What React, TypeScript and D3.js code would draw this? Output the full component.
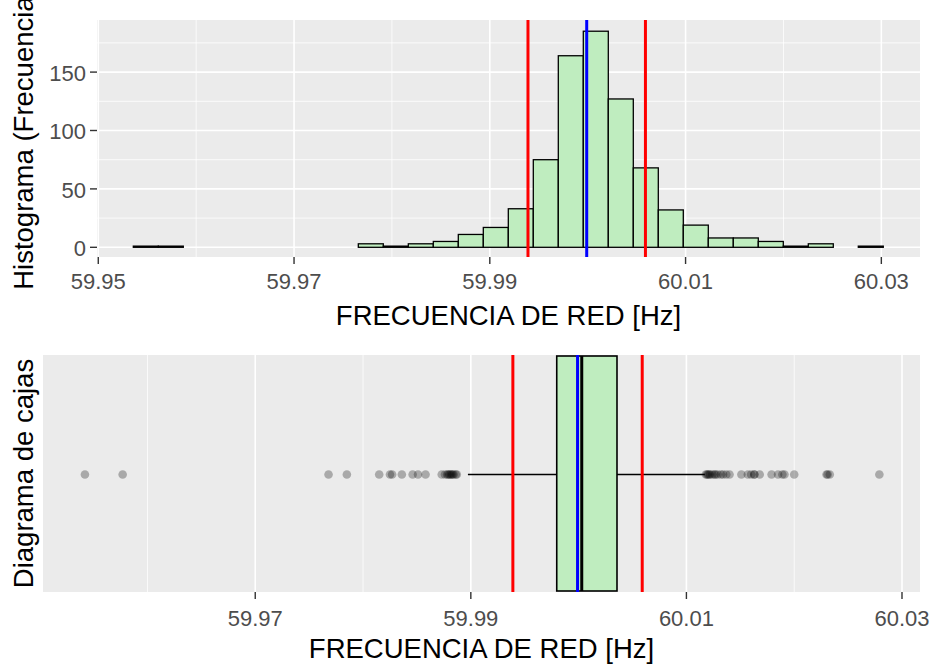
import React from "react";
import * as d3 from "d3";

// ---- data ----
const binStart = 59.95358;
const binWidth = 0.002554;
const histCounts = [1, 1, 0, 0, 0, 0, 0, 0, 0, 3, 1, 3, 5, 11, 17, 33, 75, 164, 185, 127, 68, 32, 19, 8, 8, 5, 1, 3, 0, 1];
const refLimits = [59.9939, 60.0059];
const meanValue = 59.9999;
const boxStats = { lowerWhisker: 59.98973, q1: 59.99797, median: 60.00029, q3: 60.00356, upperWhisker: 60.01171 };
const outliersLow = [59.9542, 59.9577, 59.9768, 59.9785, 59.9815, 59.9825, 59.9827, 59.9836, 59.9846, 59.9851, 59.9858, 59.9873, 59.9876, 59.9878, 59.9879, 59.988, 59.9881, 59.9882, 59.9883, 59.9884, 59.9886, 59.9887];
const outliersHigh = [60.0118, 60.0119, 60.012, 60.0121, 60.0122, 60.0124, 60.0126, 60.0127, 60.0129, 60.0132, 60.0134, 60.0137, 60.014, 60.0151, 60.0157, 60.016, 60.0163, 60.0163, 60.0168, 60.0179, 60.0185, 60.0189, 60.0191, 60.02, 60.023, 60.0231, 60.0233, 60.0279];
const topXTicks = [59.95, 59.97, 59.99, 60.01, 60.03];
const topXMinor = [59.96, 59.98, 60.0, 60.02];
const topYTicks = [0, 50, 100, 150];
const topYMinor = [25, 75, 125, 175];
const botXTicks = [59.97, 59.99, 60.01, 60.03];
const botXMinor = [59.96, 59.98, 60.0, 60.02];

const FONT = "'Liberation Sans', Arial, sans-serif";
const PANEL_BG = "#EBEBEB";
const FILL = "#BFEDBF";

export default function App() {
  // top panel
  const tL = 97, tR = 920, tT = 20, tB = 257;
  const xTop = d3.scaleLinear().domain([59.94987, 60.03395]).range([tL, tR]);
  const yTop = d3.scaleLinear().domain([-8.3, 194.6]).range([tB, tT]);
  // bottom panel
  const bL = 43, bR = 920, bT = 355, bB = 592;
  const xBot = d3.scaleLinear().domain([59.95031, 60.03167]).range([bL, bR]);
  const yMid = (bT + bB) / 2 + 1;

  const bins = histCounts.map((c, i) => ({ x0: binStart + i * binWidth, x1: binStart + (i + 1) * binWidth, c }));
  const outliers = [...outliersLow, ...outliersHigh];

  return (
    <svg width={930} height={667} style={{ position: "absolute", left: 0, top: 0, background: "#fff" }} fontFamily={FONT}>
      {/* ---------- TOP PANEL ---------- */}
      <rect x={tL} y={tT} width={tR - tL} height={tB - tT} fill={PANEL_BG} />
      {topYMinor.map((v) => (
        <line key={"tym" + v} x1={tL} x2={tR} y1={yTop(v)} y2={yTop(v)} stroke="#fff" strokeWidth={0.8} />
      ))}
      {topXMinor.map((v) => (
        <line key={"txm" + v} x1={xTop(v)} x2={xTop(v)} y1={tT} y2={tB} stroke="#fff" strokeWidth={0.8} />
      ))}
      {topYTicks.map((v) => (
        <line key={"ty" + v} x1={tL} x2={tR} y1={yTop(v)} y2={yTop(v)} stroke="#fff" strokeWidth={1.6} />
      ))}
      {topXTicks.map((v) => (
        <line key={"tx" + v} x1={xTop(v)} x2={xTop(v)} y1={tT} y2={tB} stroke="#fff" strokeWidth={1.6} />
      ))}
      {bins.map((b, i) => (
        <rect
          key={"bin" + i}
          x={xTop(b.x0)}
          y={yTop(b.c)}
          width={xTop(b.x1) - xTop(b.x0)}
          height={yTop(0) - yTop(b.c)}
          fill={FILL}
          stroke="#000"
          strokeWidth={1.3}
        />
      ))}
      {refLimits.map((v) => (
        <line key={"tr" + v} x1={xTop(v)} x2={xTop(v)} y1={tT} y2={tB} stroke="#FF0000" strokeWidth={3} />
      ))}
      <line x1={xTop(meanValue)} x2={xTop(meanValue)} y1={tT} y2={tB} stroke="#0000FF" strokeWidth={3} />
      {/* top axes */}
      {topXTicks.map((v) => (
        <g key={"txt" + v}>
          <line x1={xTop(v)} x2={xTop(v)} y1={tB} y2={tB + 7} stroke="#333" strokeWidth={1.4} />
          <text x={xTop(v)} y={289} textAnchor="middle" fontSize={22} fill="#4D4D4D">{v.toFixed(2)}</text>
        </g>
      ))}
      {topYTicks.map((v) => (
        <g key={"tyt" + v}>
          <line x1={tL - 7} x2={tL} y1={yTop(v)} y2={yTop(v)} stroke="#333" strokeWidth={1.4} />
          <text x={tL - 11} y={yTop(v) + 9} textAnchor="end" fontSize={22} fill="#4D4D4D">{v}</text>
        </g>
      ))}
      <text x={(tL + tR) / 2} y={325} textAnchor="middle" fontSize={27.5} fill="#000">FRECUENCIA DE RED [Hz]</text>
      <text transform={`translate(33,${(tT + tB) / 2}) rotate(-90)`} textAnchor="middle" fontSize={27.5} fill="#000">Histograma (Frecuencia)</text>

      {/* ---------- BOTTOM PANEL ---------- */}
      <rect x={bL} y={bT} width={bR - bL} height={bB - bT} fill={PANEL_BG} />
      {botXMinor.map((v) => (
        <line key={"bxm" + v} x1={xBot(v)} x2={xBot(v)} y1={bT} y2={bB} stroke="#fff" strokeWidth={0.8} />
      ))}
      {botXTicks.map((v) => (
        <line key={"bx" + v} x1={xBot(v)} x2={xBot(v)} y1={bT} y2={bB} stroke="#fff" strokeWidth={1.6} />
      ))}
      {/* whiskers */}
      <line x1={xBot(boxStats.lowerWhisker)} x2={xBot(boxStats.q1)} y1={yMid} y2={yMid} stroke="#000" strokeWidth={1.5} />
      <line x1={xBot(boxStats.q3)} x2={xBot(boxStats.upperWhisker)} y1={yMid} y2={yMid} stroke="#000" strokeWidth={1.5} />
      <rect
        x={xBot(boxStats.q1)}
        y={bT + 1}
        width={xBot(boxStats.q3) - xBot(boxStats.q1)}
        height={bB - bT - 2}
        fill={FILL}
        stroke="#000"
        strokeWidth={1.6}
      />
      <line x1={xBot(boxStats.median)} x2={xBot(boxStats.median)} y1={bT + 1} y2={bB - 1} stroke="#000" strokeWidth={3} />
      {outliers.map((v, i) => (
        <circle key={"o" + i} cx={xBot(v)} cy={yMid} r={4.3} fill="#000" fillOpacity={0.28} />
      ))}
      {refLimits.map((v) => (
        <line key={"br" + v} x1={xBot(v)} x2={xBot(v)} y1={bT} y2={bB} stroke="#FF0000" strokeWidth={3} />
      ))}
      <line x1={xBot(meanValue)} x2={xBot(meanValue)} y1={bT} y2={bB} stroke="#0000FF" strokeWidth={3} />
      {botXTicks.map((v) => (
        <g key={"bxt" + v}>
          <line x1={xBot(v)} x2={xBot(v)} y1={bB} y2={bB + 7} stroke="#333" strokeWidth={1.4} />
          <text x={xBot(v)} y={626} textAnchor="middle" fontSize={22} fill="#4D4D4D">{v.toFixed(2)}</text>
        </g>
      ))}
      <text x={(bL + bR) / 2} y={658} textAnchor="middle" fontSize={27.5} fill="#000">FRECUENCIA DE RED [Hz]</text>
      <text transform={`translate(33,${(bT + bB) / 2}) rotate(-90)`} textAnchor="middle" fontSize={27.5} fill="#000">Diagrama de cajas</text>
    </svg>
  );
}
